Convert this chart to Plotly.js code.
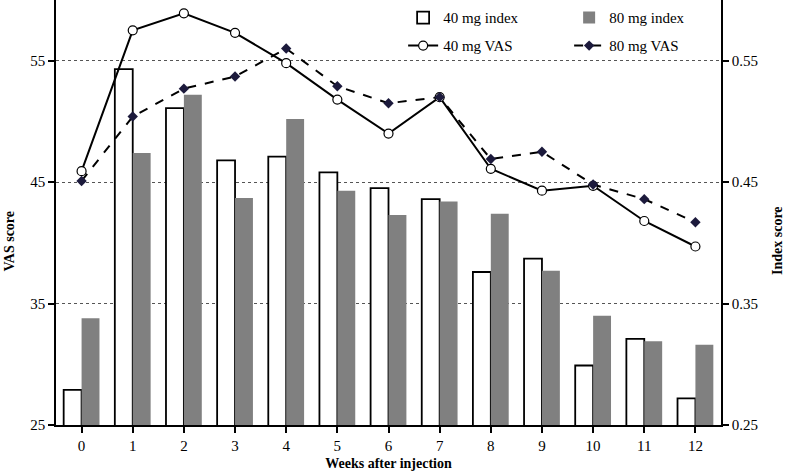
<!DOCTYPE html>
<html>
<head>
<meta charset="utf-8">
<script src="https://cdn.plot.ly/plotly-3.0.1.min.js"></script>
<style>html,body{margin:0;padding:0;background:#fff;}#chart{width:785px;height:472px;}</style>
</head>
<body>
<div id="chart"></div>
<script>
const weeks = [0,1,2,3,4,5,6,7,8,9,10,11,12];
const index40 = [0.279,0.543,0.511,0.468,0.471,0.458,0.445,0.436,0.376,0.387,0.299,0.321,0.272];
const index80 = [0.338,0.474,0.522,0.437,0.502,0.443,0.423,0.434,0.424,0.377,0.340,0.319,0.316];
const vas40 = [45.9,57.5,58.9,57.3,54.8,51.8,49.0,52.0,46.1,44.3,44.7,41.8,39.7];
const vas80 = [45.1,50.4,52.7,53.7,56.0,52.9,51.5,52.0,46.9,47.5,44.8,43.6,41.7];
const leftTicks = [25,35,45,55];
const rightTicks = [0.25,0.35,0.45,0.55];
const rightTickText = ['0.25','0.35','0.45','0.55'];

const FONT = 'Liberation Serif, Times New Roman, serif';

const traces = [
  {type:'bar', x:weeks, y:index40, name:'40 mg index', yaxis:'y', legend:'legend',
   marker:{color:'#ffffff', line:{color:'#000000', width:1.8}}},
  {type:'bar', x:weeks, y:index80, name:'80 mg index', yaxis:'y', legend:'legend',
   marker:{color:'#808080', line:{color:'#808080', width:0}}},
  {type:'scatter', mode:'lines+markers', x:weeks, y:vas40, name:'40 mg VAS', yaxis:'y2', legend:'legend2',
   line:{color:'#000000', width:2},
   marker:{symbol:'circle', size:9, color:'#ffffff', line:{color:'#000000', width:1.2}}},
  {type:'scatter', mode:'lines+markers', x:weeks, y:vas80, name:'80 mg VAS', yaxis:'y2', legend:'legend2',
   line:{color:'#000000', width:2, dash:'dash'},
   marker:{symbol:'diamond', size:8, color:'#1c1a3c', line:{width:0}}}
];

const layout = {
  width:785, height:472,
  margin:{l:56, r:64, t:0, b:47},
  paper_bgcolor:'#ffffff', plot_bgcolor:'#ffffff',
  font:{family:FONT, size:15, color:'#000'},
  barmode:'group', bargap:0.3, bargroupgap:0,
  showlegend:true,
  legend:{orientation:'h', x:0.522, xanchor:'left', y:0.997, yanchor:'top',
          entrywidth:121, entrywidthmode:'pixels', bgcolor:'rgba(0,0,0,0)',
          font:{family:FONT, size:15}, traceorder:'normal'},
  legend2:{orientation:'h', x:0.522, xanchor:'left', y:0.931, yanchor:'top',
          entrywidth:121, entrywidthmode:'pixels', bgcolor:'rgba(0,0,0,0)',
          font:{family:FONT, size:15}, traceorder:'normal'},
  xaxis:{range:[-0.5,12.5], tickmode:'array', tickvals:weeks, ticktext:weeks.map(String),
         tickson:'boundaries', ticks:'outside', ticklen:6, tickwidth:1.5, tickcolor:'#000',
         showline:true, linecolor:'#000', linewidth:1.5, showgrid:false, zeroline:false,
         tickfont:{family:FONT, size:15},
         title:{text:'<b>Weeks after injection</b>', font:{family:FONT, size:14}, standoff:5}},
  yaxis:{side:'right', range:[0.25,0.60], tickmode:'array', tickvals:rightTicks, ticktext:rightTickText,
         ticks:'outside', ticklen:6, tickwidth:1.5, tickcolor:'#000',
         showline:true, linecolor:'#000', linewidth:1.5,
         showgrid:true, gridcolor:'#555', griddash:'dot', gridwidth:1, zeroline:false,
         tickfont:{family:FONT, size:15}},
  yaxis2:{overlaying:'y', side:'left', range:[25,60], tickmode:'array', tickvals:leftTicks,
         ticks:'outside', ticklen:6, tickwidth:1.5, tickcolor:'#000',
         showline:true, linecolor:'#000', linewidth:1.5, showgrid:false, zeroline:false,
         tickfont:{family:FONT, size:15}},
  annotations:[
    {text:'<b>VAS score</b>', xref:'paper', yref:'paper', x:(8.5-56)/665, y:(425-241)/425,
     xanchor:'center', yanchor:'middle', textangle:-90, showarrow:false,
     font:{family:FONT, size:14}},
    {text:'<b>Index score</b>', xref:'paper', yref:'paper', x:(777-56)/665, y:(425-241)/425,
     xanchor:'center', yanchor:'middle', textangle:-90, showarrow:false,
     font:{family:FONT, size:14}}
  ]
};

Plotly.newPlot('chart', traces, layout, {displayModeBar:false, responsive:false});
</script>
</body>
</html>
